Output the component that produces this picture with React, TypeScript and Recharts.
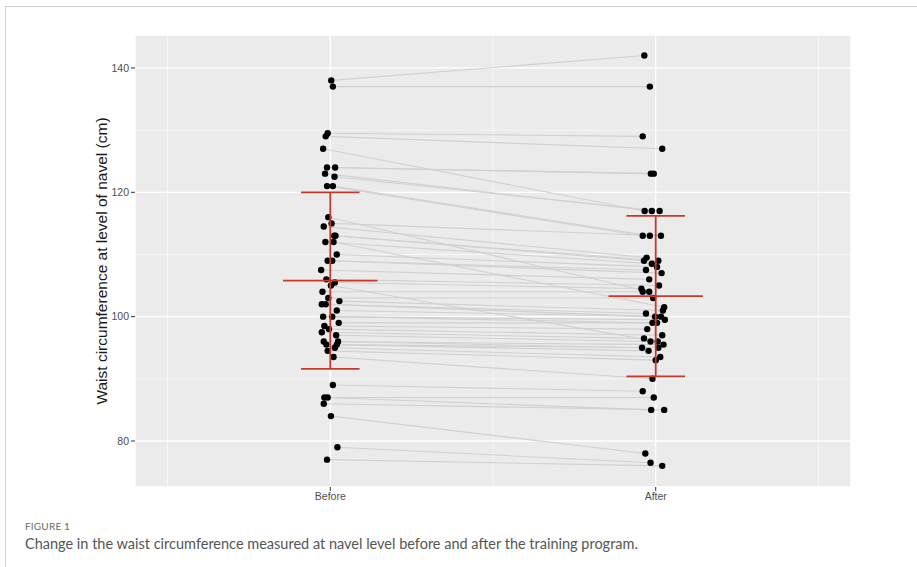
import { CartesianGrid, Scatter, ScatterChart, XAxis, YAxis } from "recharts";

const categoryLabels = ["Before", "After"];

// waist circumference (cm), one entry per subject, same order in both arrays
const beforeValues = [
  138, 137, 129.5, 129, 127, 124, 124, 123, 122.5, 121,
  121, 116, 115, 114.5, 113, 113, 112, 112, 110, 109,
  109, 107.5, 106, 105.5, 105, 104, 103, 102.5, 102, 102,
  101, 100, 100, 99, 98.5, 98, 97.5, 97, 96, 96,
  95.5, 95.5, 95, 94.5, 93.5, 89, 87, 87, 86, 84,
  79, 77,
];
const afterValues = [
  142, 137, 129, 127, 117, 123, 123, 117, 117, 113,
  113, 104, 113, 109.5, 109, 109, 108.5, 101.5, 108, 107.5,
  107, 106, 105, 104.5, 96, 104, 103, 101, 100.5, 100,
  100, 99.5, 99, 99, 98, 97, 96.5, 96, 95.5, 95,
  95, 94.5, 93.5, 93, 90, 88, 87, 85, 85, 78,
  76.5, 76,
];

// horizontal jitter of each dot (x units)
const beforeJitter = [
  0.003, 0.008, -0.008, -0.014, -0.022, -0.01, 0.015, -0.016, 0.013, -0.01,
  0.008, -0.006, 0.004, -0.02, 0.012, 0.016, -0.015, 0.01, 0.02, -0.008,
  0.006, -0.028, -0.012, 0.014, 0.002, -0.024, -0.006, 0.028, -0.026, -0.014,
  0.02, -0.022, 0.006, 0.026, -0.018, -0.004, -0.026, 0.018, -0.02, 0.024,
  -0.012, 0.02, 0.014, -0.008, 0.01, 0.008, -0.018, -0.008, -0.02, 0.002,
  0.022, -0.01,
];
const afterJitter = [
  -0.035, -0.018, -0.04, 0.02, -0.034, -0.015, -0.006, -0.012, 0.012, -0.04,
  -0.018, -0.02, 0.016, -0.028, -0.036, 0.008, -0.012, 0.026, 0.004, -0.03,
  0.018, -0.02, 0.01, -0.044, 0.006, -0.04, -0.008, 0.022, -0.03, -0.002,
  0.016, 0.028, -0.01, 0.004, -0.026, 0.02, -0.036, -0.016, 0.024, -0.042,
  0.008, -0.022, 0.014, 0, -0.01, -0.04, -0.006, -0.014, 0.026, -0.032,
  -0.016, 0.02,
];

// mean and SD bars as drawn
const groupMeans = [105.8, 103.3];
const groupSds = [14.2, 12.9];

const yDomain = [72.6, 145.3];
const xDomain = [0.4, 2.6];
const yTicks = [80, 100, 120, 140];
const minorY = [90, 110, 130];
const minorX = [0.5, 1.5, 2.5];

const pairs = beforeValues.map((b, i) => [
  { x: 1 + beforeJitter[i], y: b },
  { x: 2 + afterJitter[i], y: afterValues[i] },
]);
const beforePoints = beforeValues.map((y, i) => ({ x: 1 + beforeJitter[i], y }));
const afterPoints = afterValues.map((y, i) => ({ x: 2 + afterJitter[i], y }));

const errorSegments = groupMeans.flatMap((m, i) => {
  const x = i + 1;
  const sd = groupSds[i];
  return [
    [{ x, y: m - sd }, { x, y: m + sd }],
    [{ x: x - 0.09, y: m + sd }, { x: x + 0.09, y: m + sd }],
    [{ x: x - 0.09, y: m - sd }, { x: x + 0.09, y: m - sd }],
    [{ x: x - 0.145, y: m }, { x: x + 0.145, y: m }],
  ];
});

const Dot = (p: any) => <circle cx={p.cx} cy={p.cy} r={3.2} fill="#000" />;
const NoDot = () => <g />;

const minorYGen = ({ yAxis, offset }: any) =>
  minorY.map((v) =>
    yAxis && typeof yAxis.scale === "function"
      ? yAxis.scale(v)
      : offset.top + ((yDomain[1] - v) / (yDomain[1] - yDomain[0])) * offset.height
  );
const minorXGen = ({ xAxis, offset }: any) =>
  minorX.map((v) =>
    xAxis && typeof xAxis.scale === "function"
      ? xAxis.scale(v)
      : offset.left + ((v - xDomain[0]) / (xDomain[1] - xDomain[0])) * offset.width
  );

const font = "'Liberation Sans', Arial, sans-serif";

export default function App() {
  return (
    <div style={{ position: "absolute", left: 0, top: 0, width: 917, height: 567, background: "#fff", overflow: "hidden" }}>
      <div
        style={{
          position: "absolute",
          left: 5,
          top: 6,
          width: 940,
          height: 600,
          borderLeft: "1px solid #d2d2d2",
          borderTop: "1px solid #d2d2d2",
        }}
      />
      <div style={{ position: "absolute", left: 0, top: 0, fontFamily: font }}>
        <ScatterChart width={917} height={515} margin={{ top: 35, right: 66, bottom: 0, left: 0 }}>
          <CartesianGrid fill="#EBEBEB" stroke="#fff" strokeWidth={1.3} />
          <CartesianGrid
            stroke="#fff"
            strokeWidth={0.6}
            horizontalCoordinatesGenerator={minorYGen}
            verticalCoordinatesGenerator={minorXGen}
          />
          <XAxis
            type="number"
            dataKey="x"
            domain={xDomain}
            ticks={[1, 2]}
            allowDataOverflow
            tickFormatter={(v) => categoryLabels[Math.round(v) - 1]}
            axisLine={false}
            tickLine={{ stroke: "#333" }}
            tickSize={4}
            height={28}
            tick={{ fontSize: 10.5, fill: "#4d4d4d", fontFamily: font }}
          />
          <YAxis
            type="number"
            dataKey="y"
            domain={yDomain}
            ticks={yTicks}
            allowDataOverflow
            axisLine={false}
            tickLine={{ stroke: "#333" }}
            tickSize={4}
            width={135}
            tick={{ fontSize: 10.5, fill: "#4d4d4d", fontFamily: font }}
            label={() => (
              <text
                x={101}
                y={261}
                transform="rotate(-90, 101, 261)"
                textAnchor="middle"
                dominantBaseline="central"
                fontSize={15.5}
                fill="#1a1a1a"
                fontFamily={font}
              >
                Waist circumference at level of navel (cm)
              </text>
            )}
          />
          {pairs.map((pair, i) => (
            <Scatter
              key={"pair" + i}
              data={pair}
              line={{ stroke: "#d0d0d0", strokeWidth: 1.1 }}
              shape={NoDot}
              isAnimationActive={false}
            />
          ))}
          <Scatter data={beforePoints} shape={Dot} isAnimationActive={false} />
          <Scatter data={afterPoints} shape={Dot} isAnimationActive={false} />
          {errorSegments.map((seg, i) => (
            <Scatter
              key={"err" + i}
              data={seg}
              line={{ stroke: "#c8382a", strokeWidth: 1.8 }}
              shape={NoDot}
              isAnimationActive={false}
            />
          ))}
        </ScatterChart>
      </div>
      <div
        style={{
          position: "absolute",
          left: 25,
          top: 520,
          fontFamily: "Lato, 'Open Sans', sans-serif",
          fontSize: 10,
          color: "#6a6a6a",
          letterSpacing: 0.2,
        }}
      >
        FIGURE 1
      </div>
      <div
        style={{
          position: "absolute",
          left: 25,
          top: 535,
          fontFamily: "Lato, 'Open Sans', sans-serif",
          fontSize: 14.5,
          color: "#555",
          whiteSpace: "nowrap",
        }}
      >
        Change in the waist circumference measured at navel level before and after the training program.
      </div>
    </div>
  );
}
